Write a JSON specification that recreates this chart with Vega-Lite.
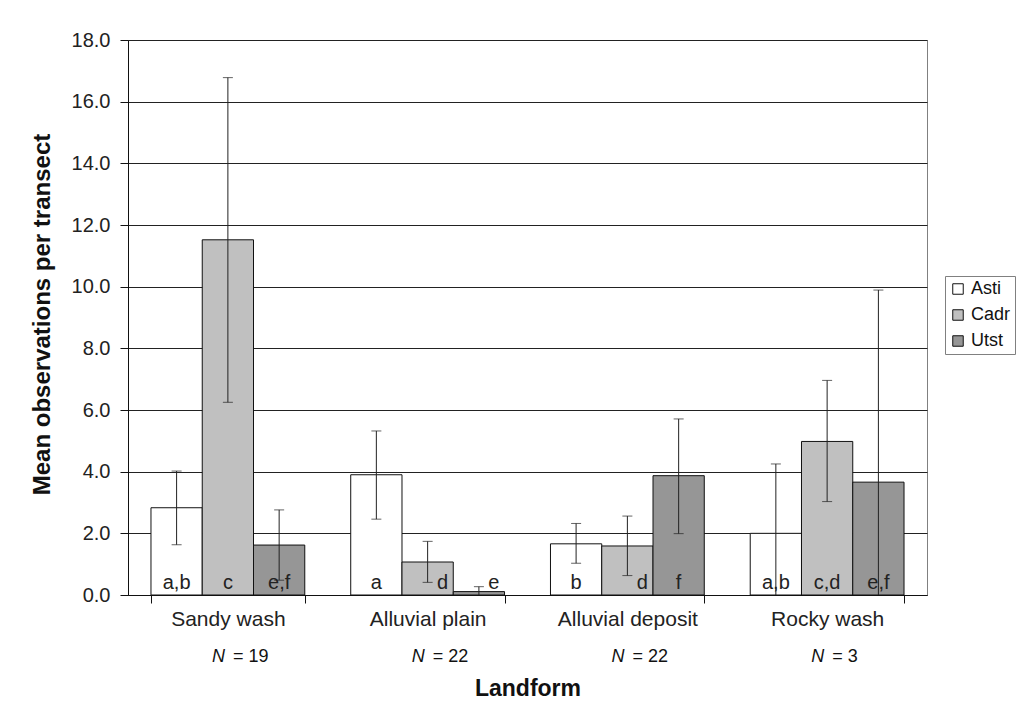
{
  "$schema": "https://vega.github.io/schema/vega-lite/v6.json",
  "width": 799,
  "height": 555,
  "autosize": {"type": "none"},
  "padding": {"left": 128, "top": 40, "right": 96, "bottom": 107},
  "background": "white",
  "config": {"font": "Liberation Sans", "view": {"stroke": "#808080", "strokeWidth": 1}},
  "datasets": {
    "bars": [
      {"landform": "Sandy wash", "species": "Asti", "mean": 2.83, "lower": 1.63, "upper": 4.02, "letters": "a,b"},
      {"landform": "Sandy wash", "species": "Cadr", "mean": 11.52, "lower": 6.25, "upper": 16.78, "letters": "c"},
      {"landform": "Sandy wash", "species": "Utst", "mean": 1.62, "lower": 0.48, "upper": 2.76, "letters": "e,f"},
      {"landform": "Alluvial plain", "species": "Asti", "mean": 3.9, "lower": 2.46, "upper": 5.32, "letters": "a"},
      {"landform": "Alluvial plain", "species": "Cadr", "mean": 1.07, "lower": 0.41, "upper": 1.74, "letters": "d"},
      {"landform": "Alluvial plain", "species": "Utst", "mean": 0.11, "lower": 0, "upper": 0.27, "letters": "e"},
      {"landform": "Alluvial deposit", "species": "Asti", "mean": 1.66, "lower": 1.03, "upper": 2.32, "letters": "b"},
      {"landform": "Alluvial deposit", "species": "Cadr", "mean": 1.59, "lower": 0.63, "upper": 2.56, "letters": "d"},
      {"landform": "Alluvial deposit", "species": "Utst", "mean": 3.87, "lower": 1.99, "upper": 5.71, "letters": "f"},
      {"landform": "Rocky wash", "species": "Asti", "mean": 2.0, "lower": 0, "upper": 4.25, "letters": "a,b"},
      {"landform": "Rocky wash", "species": "Cadr", "mean": 4.98, "lower": 3.03, "upper": 6.96, "letters": "c,d"},
      {"landform": "Rocky wash", "species": "Utst", "mean": 3.66, "lower": 0, "upper": 9.89, "letters": "e,f"}
    ],
    "ns": [
      {"landform": "Sandy wash", "nlabel": "= 19"},
      {"landform": "Alluvial plain", "nlabel": "= 22"},
      {"landform": "Alluvial deposit", "nlabel": "= 22"},
      {"landform": "Rocky wash", "nlabel": "= 3"}
    ]
  },
  "layer": [
    {
      "data": {"name": "bars"},
      "mark": {"type": "bar", "stroke": "#111", "strokeWidth": 1},
      "encoding": {
        "x": {
          "field": "landform", "type": "nominal",
          "sort": ["Sandy wash", "Alluvial plain", "Alluvial deposit", "Rocky wash"],
          "scale": {"paddingInner": 0.23, "paddingOuter": 0.115},
          "axis": {
            "title": "Landform", "titleFontSize": 23, "titleFontWeight": "bold", "titleColor": "#111",
            "titleY": 93, "titleBaseline": "middle",
            "labelAngle": 0, "labelFontSize": 21, "labelColor": "#222", "labelPadding": 5,
            "tickSize": 8, "tickBand": "extent", "tickColor": "#111", "domainColor": "#111", "grid": false
          }
        },
        "xOffset": {"field": "species", "type": "nominal", "sort": ["Asti", "Cadr", "Utst"], "scale": {"paddingInner": 0, "paddingOuter": 0}},
        "y": {
          "field": "mean", "type": "quantitative",
          "scale": {"domain": [0, 18], "nice": false},
          "axis": {
            "title": "Mean observations per transect", "titleFontSize": 24, "titleFontWeight": "bold", "titleColor": "#111",
            "titleX": -86, "titleY": 274, "titleAngle": 270, "titleBaseline": "middle",
            "values": [0, 2, 4, 6, 8, 10, 12, 14, 16, 18], "format": ".1f",
            "labelFontSize": 20, "labelColor": "#222", "labelPadding": 10,
            "tickSize": 8, "tickColor": "#111", "domainColor": "#111",
            "grid": true, "gridColor": "#222", "gridWidth": 1
          }
        },
        "color": {
          "field": "species", "type": "nominal",
          "scale": {"domain": ["Asti", "Cadr", "Utst"], "range": ["#ffffff", "#c0c0c0", "#969696"]},
          "legend": {
            "title": null, "orient": "none", "legendX": 817, "legendY": 236,
            "symbolType": "square", "symbolSize": 110, "symbolStrokeColor": "#111", "symbolStrokeWidth": 1,
            "labelFontSize": 18, "labelColor": "#111", "rowPadding": 8, "labelOffset": 4,
            "strokeColor": "#808080", "fillColor": "white", "padding": 4
          }
        }
      }
    },
    {
      "data": {"name": "bars"},
      "mark": {"type": "rule", "color": "#222", "strokeWidth": 1},
      "encoding": {
        "x": {"field": "landform", "type": "nominal", "sort": ["Sandy wash", "Alluvial plain", "Alluvial deposit", "Rocky wash"]},
        "xOffset": {"field": "species", "type": "nominal", "sort": ["Asti", "Cadr", "Utst"]},
        "y": {"field": "lower", "type": "quantitative"},
        "y2": {"field": "upper"}
      }
    },
    {
      "data": {"name": "bars"},
      "mark": {"type": "tick", "color": "#222", "size": 10, "thickness": 1},
      "encoding": {
        "x": {"field": "landform", "type": "nominal", "sort": ["Sandy wash", "Alluvial plain", "Alluvial deposit", "Rocky wash"]},
        "xOffset": {"field": "species", "type": "nominal", "sort": ["Asti", "Cadr", "Utst"]},
        "y": {"field": "upper", "type": "quantitative"}
      }
    },
    {
      "data": {"name": "bars"},
      "transform": [{"filter": "datum.lower > 0"}],
      "mark": {"type": "tick", "color": "#222", "size": 10, "thickness": 1},
      "encoding": {
        "x": {"field": "landform", "type": "nominal", "sort": ["Sandy wash", "Alluvial plain", "Alluvial deposit", "Rocky wash"]},
        "xOffset": {"field": "species", "type": "nominal", "sort": ["Asti", "Cadr", "Utst"]},
        "y": {"field": "lower", "type": "quantitative"}
      }
    },
    {
      "data": {"name": "bars"},
      "transform": [{"filter": "datum.letters != 'd' && datum.letters != 'e'"}],
      "mark": {"type": "text", "fontSize": 20, "color": "#222", "baseline": "alphabetic", "dy": -6},
      "encoding": {
        "x": {"field": "landform", "type": "nominal", "sort": ["Sandy wash", "Alluvial plain", "Alluvial deposit", "Rocky wash"]},
        "xOffset": {"field": "species", "type": "nominal", "sort": ["Asti", "Cadr", "Utst"]},
        "y": {"datum": 0, "type": "quantitative"},
        "text": {"field": "letters"}
      }
    },
    {
      "data": {"name": "bars"},
      "transform": [{"filter": "datum.letters == 'd' || datum.letters == 'e'"}],
      "mark": {"type": "text", "fontSize": 20, "color": "#222", "baseline": "alphabetic", "dy": -6, "dx": 15},
      "encoding": {
        "x": {"field": "landform", "type": "nominal", "sort": ["Sandy wash", "Alluvial plain", "Alluvial deposit", "Rocky wash"]},
        "xOffset": {"field": "species", "type": "nominal", "sort": ["Asti", "Cadr", "Utst"]},
        "y": {"datum": 0, "type": "quantitative"},
        "text": {"field": "letters"}
      }
    },
    {
      "data": {"name": "ns"},
      "mark": {"type": "text", "fontSize": 18, "fontStyle": "italic", "color": "#111", "align": "left", "baseline": "middle", "dx": -16},
      "encoding": {
        "x": {"field": "landform", "type": "nominal", "sort": ["Sandy wash", "Alluvial plain", "Alluvial deposit", "Rocky wash"]},
        "y": {"datum": -2.0, "type": "quantitative"},
        "text": {"value": "N"}
      }
    },
    {
      "data": {"name": "ns"},
      "mark": {"type": "text", "fontSize": 18, "color": "#111", "align": "left", "baseline": "middle", "dx": 5},
      "encoding": {
        "x": {"field": "landform", "type": "nominal", "sort": ["Sandy wash", "Alluvial plain", "Alluvial deposit", "Rocky wash"]},
        "y": {"datum": -2.0, "type": "quantitative"},
        "text": {"field": "nlabel"}
      }
    }
  ]
}
